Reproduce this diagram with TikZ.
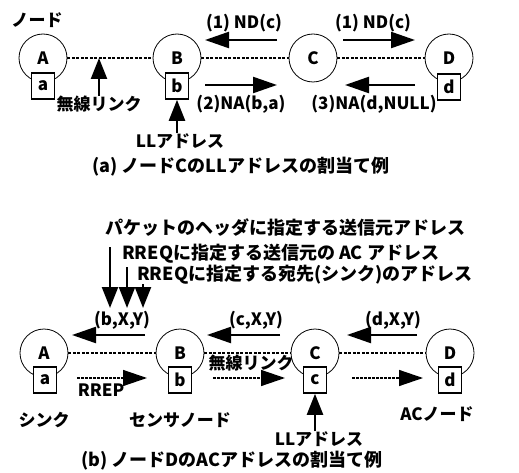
\documentclass[tikz,border=0pt]{standalone}
\usepackage{fontspec}
\setmainfont{Noto Sans CJK JP}
\usetikzlibrary{arrows.meta}
\begin{document}
\begin{tikzpicture}[x=1pt,y=-1pt,
  every node/.style={font=\fontsize{17}{19}\selectfont\bfseries, inner sep=0pt},
  big/.style={font=\fontsize{18}{20}\selectfont\bfseries},
  circ/.style={draw, line width=0.8pt, circle, minimum size=48pt},
  abox/.style={draw, line width=1.6pt, fill=white, minimum width=23pt, minimum height=26pt},
  link/.style={line width=1.1pt, dash pattern=on 3pt off 1.5pt},
  arr/.style={line width=2.3pt, -{Triangle[length=24pt,width=16pt]}},
  varr/.style={line width=2.3pt, -{Triangle[length=21pt,width=16pt]}},
  darr/.style={line width=1.4pt, dash pattern=on 2.5pt off 1.5pt, -{Triangle[length=24pt,width=16pt]}},
  lbl/.style={}]
\useasboundingbox (0,0) rectangle (519,473);
% ---------- (a) ----------
\node[lbl] (nodelbl) at (37,20) {ノード};
\node[circ] (A1) at (43,58) {A};
\node[circ] (B1) at (177,58) {B};
\node[circ] (C1) at (313,58) {C};
\node[circ] (D1) at (449,58) {D};
\draw[link] (A1) -- (B1);
\draw[link] (B1) -- (C1);
\draw[link] (C1) -- (D1);
\node[abox] (a1) at (43,86) {a};
\node[abox] (b1) at (177,86) {b};
\node[abox] (d1) at (449,87) {d};
\node[lbl] (wl1) at (99,104) {無線リンク};
\draw[varr] (wl1.north) -- (wl1.north |- A1);
\node[lbl] (ll1) at (180,141) {LLアドレス};
\draw[varr] (ll1.north -| b1) -- (b1.south);
\node[lbl] (nd1) at (244,23) {(1) ND(c)};
\coordinate (nd1s) at (277,40); \coordinate (nd1e) at (205,40);
\draw[arr] (nd1s) -- (nd1e);
\node[lbl] (nd2) at (373,23) {(1) ND(c)};
\coordinate (nd2s) at (343,40); \coordinate (nd2e) at (415,40);
\draw[arr] (nd2s) -- (nd2e);
\node[lbl] (na2) at (241,104) {(2)NA(b,a)};
\coordinate (na2s) at (205,85); \coordinate (na2e) at (277,85);
\draw[arr] (na2s) -- (na2e);
\node[lbl] (na3) at (374,104) {(3)NA(d,NULL)};
\coordinate (na3s) at (415,85); \coordinate (na3e) at (345,85);
\draw[arr] (na3s) -- (na3e);
\node[big] (capa) at (241,167) {(a) ノードCのLLアドレスの割当て例};
% ---------- (b) ----------
\node[big, anchor=west] (t1) at (105,228) {パケットのヘッダに指定する送信元アドレス};
\node[big, anchor=west] (t2) at (122,254) {RREQに指定する送信元の AC アドレス};
\node[big, anchor=west] (t3) at (137,275) {RREQに指定する宛先(シンク)のアドレス};
\coordinate (v1s) at (110,247); \coordinate (v1e) at (110,308);
\coordinate (v2s) at (127,267); \coordinate (v2e) at (127,308);
\coordinate (v3s) at (143,284); \coordinate (v3e) at (143,308);
\draw[varr] (v1s) -- (v1e);
\draw[varr] (v2s) -- (v2e);
\draw[varr] (v3s) -- (v3e);
\node[lbl] (bxy) at (122,320) {(b,X,Y)};
\node[lbl] (cxy) at (256,320) {(c,X,Y)};
\node[lbl] (dxy) at (393,320) {(d,X,Y)};
\node[circ] (A2) at (44,353) {A};
\node[circ] (B2) at (180,353) {B};
\node[circ] (C2) at (315,353) {C};
\node[circ] (D2) at (450,353) {D};
\draw[link] (A2) -- (B2);
\draw[link] (B2) -- (C2);
\draw[link] (C2) -- (D2);
\node[abox] (a2) at (45,380) {a};
\node[abox] (b2) at (180,380) {b};
\node[abox] (c2) at (315,380) {c};
\node[abox] (d2) at (450,380) {d};
\coordinate (q1s) at (145,335); \coordinate (q1e) at (72,335);
\coordinate (q2s) at (280,335); \coordinate (q2e) at (207,335);
\coordinate (q3s) at (417,335); \coordinate (q3e) at (347,335);
\draw[arr] (q1s) -- (q1e);
\draw[arr] (q2s) -- (q2e);
\draw[arr] (q3s) -- (q3e);
\node[lbl] (wl2) at (251,363) {無線リンク};
\coordinate (r1s) at (77,378); \coordinate (r1e) at (147,378);
\coordinate (r2s) at (213,378); \coordinate (r2e) at (285,378);
\coordinate (r3s) at (352,378); \coordinate (r3e) at (423,378);
\draw[darr] (r1s) -- (r1e);
\draw[darr] (r2s) -- (r2e);
\draw[darr] (r3s) -- (r3e);
\node[lbl] (rrep) at (101,390) {RREP};
\node[lbl] (sink) at (44,420) {シンク};
\node[lbl] (sensor) at (180,420) {センサノード};
\node[lbl] (acn) at (437,414) {ACノード};
\node[lbl] (ll2) at (319,439) {LLアドレス};
\draw[varr] (ll2.north -| c2) -- (c2.south);
\node[big] (capb) at (232,461) {(b) ノードDのACアドレスの割当て例};
\end{tikzpicture}
\end{document}
